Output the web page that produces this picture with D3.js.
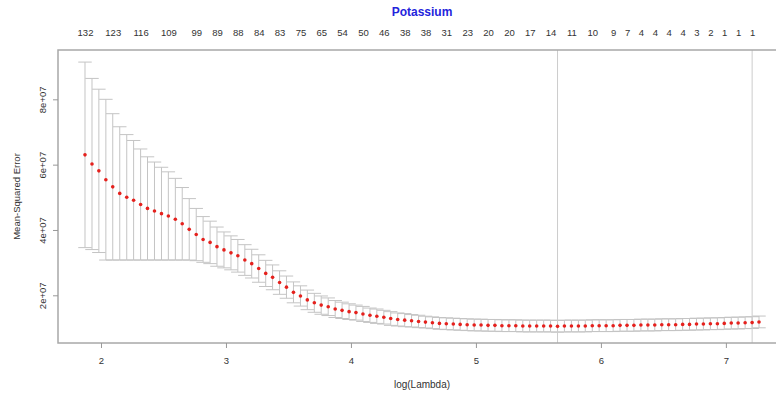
<!DOCTYPE html>
<html><head><meta charset="utf-8">
<script src="https://cdn.jsdelivr.net/npm/d3@7"></script>
<style>
body{margin:0;background:#fff}
text{font-family:"Liberation Sans",Arial,Helvetica,sans-serif}
</style>
</head><body>
<svg id="chart" width="776" height="395"></svg>
<script>
// ---- data ----
const logLambda = [1.872,1.928,1.983,2.039,2.094,2.150,2.206,2.261,2.317,2.372,
2.428,2.484,2.539,2.595,2.650,2.706,2.762,2.817,2.873,2.928,
2.984,3.040,3.095,3.151,3.206,3.262,3.318,3.373,3.429,3.484,
3.540,3.596,3.651,3.707,3.762,3.818,3.874,3.929,3.985,4.040,
4.096,4.152,4.207,4.263,4.318,4.374,4.430,4.485,4.541,4.596,
4.652,4.708,4.763,4.819,4.874,4.930,4.986,5.041,5.097,5.152,
5.208,5.264,5.319,5.375,5.430,5.486,5.542,5.597,5.653,5.708,
5.764,5.820,5.875,5.931,5.986,6.042,6.098,6.153,6.209,6.264,
6.320,6.376,6.431,6.487,6.542,6.598,6.654,6.709,6.765,6.820,
6.876,6.932,6.987,7.043,7.098,7.154,7.210,7.265];
// mean cross-validated error (units of 1e7)
const cvm = [6.30,6.02,5.81,5.54,5.32,5.12,5.00,4.91,4.78,4.66,
4.58,4.50,4.43,4.33,4.19,4.02,3.86,3.71,3.62,3.49,
3.39,3.30,3.21,3.08,2.97,2.82,2.67,2.55,2.39,2.25,
2.09,1.98,1.86,1.77,1.70,1.65,1.58,1.54,1.50,1.47,
1.43,1.39,1.36,1.33,1.29,1.26,1.24,1.22,1.20,1.18,
1.16,1.14,1.13,1.12,1.11,1.10,1.09,1.09,1.08,1.08,
1.07,1.07,1.07,1.06,1.06,1.06,1.06,1.06,1.05,1.06,
1.06,1.06,1.06,1.07,1.07,1.07,1.07,1.08,1.08,1.08,
1.09,1.09,1.09,1.10,1.10,1.10,1.11,1.11,1.12,1.12,
1.13,1.13,1.14,1.15,1.15,1.16,1.165,1.185];
// standard error of the CV error (units of 1e7)
const cvsd = [2.84,2.62,2.50,2.46,2.24,2.04,1.92,1.83,1.70,1.58,
1.50,1.42,1.35,1.25,1.11,0.94,0.80,0.70,0.65,0.60,
0.55,0.52,0.50,0.47,0.44,0.42,0.40,0.38,0.36,0.34,
0.32,0.31,0.30,0.29,0.28,0.27,0.26,0.25,0.24,0.23,
0.23,0.22,0.22,0.21,0.21,0.20,0.20,0.19,0.19,0.18,
0.18,0.18,0.18,0.18,0.18,0.18,0.18,0.18,0.18,0.18,
0.18,0.18,0.18,0.18,0.18,0.18,0.18,0.18,0.18,0.18,
0.18,0.18,0.18,0.18,0.18,0.18,0.18,0.18,0.18,0.18,
0.18,0.18,0.18,0.18,0.18,0.18,0.18,0.18,0.18,0.18,
0.18,0.18,0.18,0.18,0.18,0.18,0.18,0.18];
// number of non-zero coefficients shown on the top axis, at these lambda indices
const nzIndex  = [0,4,8,12,16,19,22,25,28,31,34,37,40,43,46,49,52,55,58,61,64,67,70,73,76,78,80,82,84,86,88,90,92,94,96];
const nzLabels = ["132","123","116","109","99","89","88","84","83","75","65","54","50","46","38","38","31","23","20","20","17","14","11","10","9","7","4","4","4","4","3","2","1","1","1"];
const xTicks = [2,3,4,5,6,7];
const yTicks = [2e7,4e7,6e7,8e7];
const lambdaMin = 5.653, lambda1se = 7.210;
const titleText = "Potassium";
const xTitle = "log(Lambda)";
const yTitle = "Mean-Squared Error";
const unit = 1e7;

// ---- layout ----
const L = 58, R = 786, T = 50, B = 343;
const svg = d3.select("#chart");
const x = d3.scaleLinear().domain([1.656, 7.481]).range([L, R]);
const y = d3.scaleLinear().domain([0.54e7, 9.51e7]).range([B, T]);

const pts = logLambda.map((l,i)=>({l, m:cvm[i]*unit, up:(cvm[i]+cvsd[i])*unit, lo:(cvm[i]-cvsd[i])*unit}));
const barW = (d3.max(logLambda)-d3.min(logLambda))*0.01;

const g = svg.append("g");
// error bars
const eb = g.append("g").attr("stroke","#c4c4c4").attr("stroke-width",1).attr("fill","none");
eb.selectAll("line.v").data(pts).join("line").attr("class","v")
  .attr("x1",d=>x(d.l)).attr("x2",d=>x(d.l)).attr("y1",d=>y(d.up)).attr("y2",d=>y(d.lo));
eb.selectAll("line.u").data(pts).join("line").attr("class","u")
  .attr("x1",d=>x(d.l-barW)).attr("x2",d=>x(d.l+barW)).attr("y1",d=>y(d.up)).attr("y2",d=>y(d.up));
eb.selectAll("line.w").data(pts).join("line").attr("class","w")
  .attr("x1",d=>x(d.l-barW)).attr("x2",d=>x(d.l+barW)).attr("y1",d=>y(d.lo)).attr("y2",d=>y(d.lo));

// vertical reference lines
g.selectAll("line.ref").data([lambdaMin, lambda1se]).join("line").attr("class","ref")
  .attr("x1",d=>x(d)).attr("x2",d=>x(d)).attr("y1",T).attr("y2",B)
  .attr("stroke","#cccccc").attr("stroke-width",1);

// points
g.selectAll("circle").data(pts).join("circle")
  .attr("cx",d=>x(d.l)).attr("cy",d=>y(d.m)).attr("r",1.8).attr("fill","#e5211d");

// box
svg.append("rect").attr("x",L).attr("y",T).attr("width",R-L).attr("height",B-T)
  .attr("fill","none").attr("stroke","#a8a8a8").attr("stroke-width",1.5);

// x axis
const xa = svg.append("g").attr("transform",`translate(0,${B})`)
  .call(d3.axisBottom(x).tickValues(xTicks).tickSize(5).tickPadding(9).tickFormat(d3.format("d")));
xa.select(".domain").remove();
xa.selectAll("line").attr("stroke","#999");
xa.selectAll("text").attr("font-size","9.5px").attr("fill","#333").attr("font-family",'"Liberation Sans",Arial,sans-serif');

// y axis
const ya = svg.append("g").attr("transform",`translate(${L},0)`)
  .call(d3.axisLeft(y).tickValues(yTicks).tickSize(5).tickFormat(d=>(d/unit)+"e+07"));
ya.select(".domain").remove();
ya.selectAll("line").attr("stroke","#999");
ya.selectAll("text").attr("font-size","9.5px").attr("fill","#333")
  .attr("font-family",'"Liberation Sans",Arial,sans-serif')
  .attr("text-anchor","middle").attr("x",0).attr("dy",0)
  .attr("transform","translate(-12.5,0) rotate(-90)");

// top axis: number of non-zero coefficients
const ta = svg.append("g").attr("transform",`translate(0,${T})`)
  .call(d3.axisTop(x).tickValues(nzIndex.map(i=>logLambda[i])).tickSize(0).tickPadding(14)
    .tickFormat((d,i)=>nzLabels[i]));
ta.select(".domain").remove();
ta.selectAll("text").attr("font-size","9.5px").attr("fill","#333").attr("font-family",'"Liberation Sans",Arial,sans-serif');

// titles
svg.append("text").attr("x",(L+R)/2).attr("y",16).attr("text-anchor","middle")
  .attr("font-size","12px").attr("font-weight","bold").attr("fill","#2424dc").text(titleText);
svg.append("text").attr("x",(L+R)/2).attr("y",388).attr("text-anchor","middle")
  .attr("font-size","10px").attr("fill","#333").text(xTitle);
svg.append("text").attr("transform",`translate(20,${(T+B)/2}) rotate(-90)`).attr("text-anchor","middle")
  .attr("font-size","9.5px").attr("fill","#333").text(yTitle);
</script>
</body></html>
